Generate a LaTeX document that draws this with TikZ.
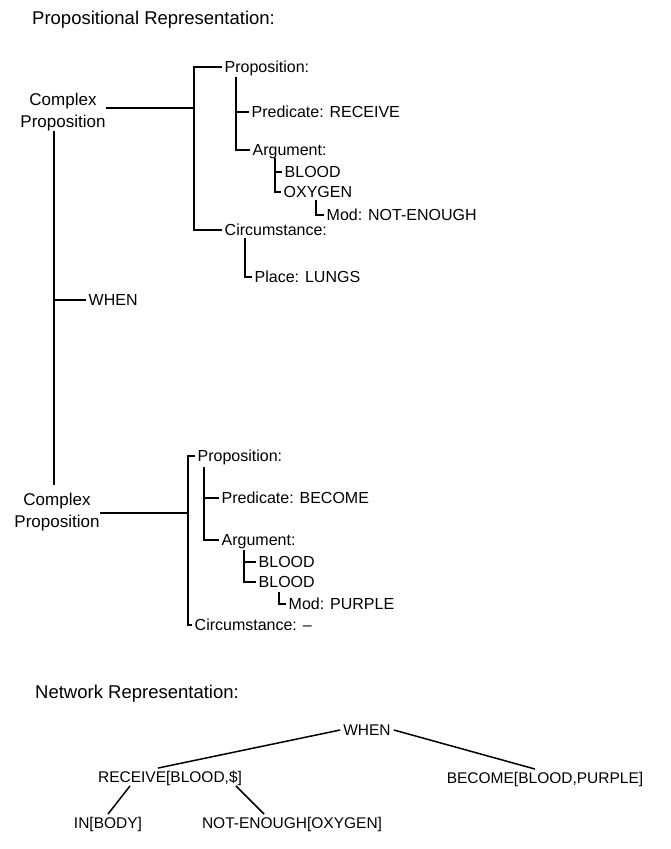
\documentclass[tikz,border=0pt]{standalone}
\usepackage{fontspec}
\setmainfont{Liberation Sans}
\usepackage{tikz}

\begin{document}
\begin{tikzpicture}[x=1pt,y=-1pt,
    lbl/.style={anchor=west,inner xsep=2.5pt,inner ysep=0pt,text height=11.5pt,text depth=0pt,font=\fontsize{16}{19}\selectfont},
    head/.style={anchor=west,inner sep=0pt,text height=13.2pt,text depth=0pt,font=\fontsize{18.5}{22}\selectfont},
    cplx/.style={align=center,inner sep=0pt,font=\fontsize{17}{22}\selectfont},
    netlbl/.style={inner sep=3pt,text height=11.5pt,text depth=0pt,font=\fontsize{15.5}{19}\selectfont},
    link/.style={line width=1.5pt}]
    \useasboundingbox (0,0) rectangle (670,849);

    % Top: propositional representation
    \node[head] (title) at (32,18) {Propositional Representation:};

    % first complex proposition
    \node[cplx] (cpA) at (63,112) {Complex\\Proposition};
    \coordinate (jA) at (194,108);
    \node[lbl] (propA) at (222,67) {Proposition:};
    \node[lbl] (predA) at (249,112) {Predicate: RECEIVE};
    \node[lbl] (argA) at (250,150) {Argument:};
    \node[lbl] (bloodA) at (282,172) {BLOOD};
    \node[lbl] (oxyA) at (281,192) {OXYGEN};
    \node[lbl] (modA) at (324,215) {Mod: NOT-ENOUGH};
    \node[lbl] (circA) at (222,230) {Circumstance:};
    \node[lbl] (placeA) at (252,277) {Place: LUNGS};
    \coordinate (sA) at (236,77);
    \coordinate (tA) at (275,158);
    \coordinate (uA) at (316,200);
    \coordinate (vA) at (245,238);

    \draw[link] (cpA.east |- jA) -- (jA);
    \draw[link] (propA.west) -| (jA) |- (circA.west);
    \draw[link] (sA) |- (argA.west);
    \draw[link] (sA |- predA.west) -- (predA.west);
    \draw[link] (tA) |- (oxyA.west);
    \draw[link] (tA |- bloodA.west) -- (bloodA.west);
    \draw[link] (uA) |- (modA.west);
    \draw[link] (vA) |- (placeA.west);

    % WHEN link
    \node[lbl] (whenA) at (86,300) {WHEN};

    % second complex proposition
    \node[cplx] (cpB) at (57,512) {Complex\\Proposition};
    \coordinate (jB) at (188,513);
    \node[lbl] (propB) at (195,456) {Proposition:};
    \node[lbl] (predB) at (219,498) {Predicate: BECOME};
    \node[lbl] (argB) at (219,540) {Argument:};
    \node[lbl] (bloodB) at (256,562) {BLOOD};
    \node[lbl] (bloodC) at (256,582) {BLOOD};
    \node[lbl] (modB) at (286,604) {Mod: PURPLE};
    \node[lbl] (circB) at (192,625) {Circumstance: --};
    \coordinate (sB) at (204,467);
    \coordinate (tB) at (244,550);
    \coordinate (uB) at (279,592);

    \coordinate (mtop) at ([xshift=-9pt]cpA.south);
    \coordinate (mbot) at (mtop |- cpB.north);
    \draw[link,shorten >=8pt] (mtop) -- (mbot);
    \draw[link] (whenA.west) -- (whenA.west -| mtop);

    \draw[link] (cpB.east |- jB) -- (jB);
    \draw[link] (propB.west) -| (jB) |- (circB.west);
    \draw[link] (sB) |- (argB.west);
    \draw[link] (sB |- predB.west) -- (predB.west);
    \draw[link] (tB) |- (bloodC.west);
    \draw[link] (tB |- bloodB.west) -- (bloodB.west);
    \draw[link] (uB) |- (modB.west);

    % Bottom: network representation
    \node[head] (net) at (35,692) {Network Representation:};
    \node[netlbl] (nwhen) at (367,730) {WHEN};
    \node[netlbl] (nrec) at (170,777) {RECEIVE[BLOOD,\$]};
    \node[netlbl] (nbec) at (545,778) {BECOME[BLOOD,PURPLE]};
    \node[netlbl] (nin) at (108,823) {IN[BODY]};
    \node[netlbl] (nnot) at (292,823) {NOT-ENOUGH[OXYGEN]};

    \draw[link] ([xshift=-12pt]nrec.north) -- (nwhen.west);
    \draw[link] (nwhen.east) -- ([xshift=-10pt]nbec.north);
    \draw[link] ([xshift=-40pt]nrec.south) -- (nin.north);
    \draw[link] ([xshift=66pt]nrec.south) -- ([xshift=-28pt]nnot.north);
\end{tikzpicture}
\end{document}
